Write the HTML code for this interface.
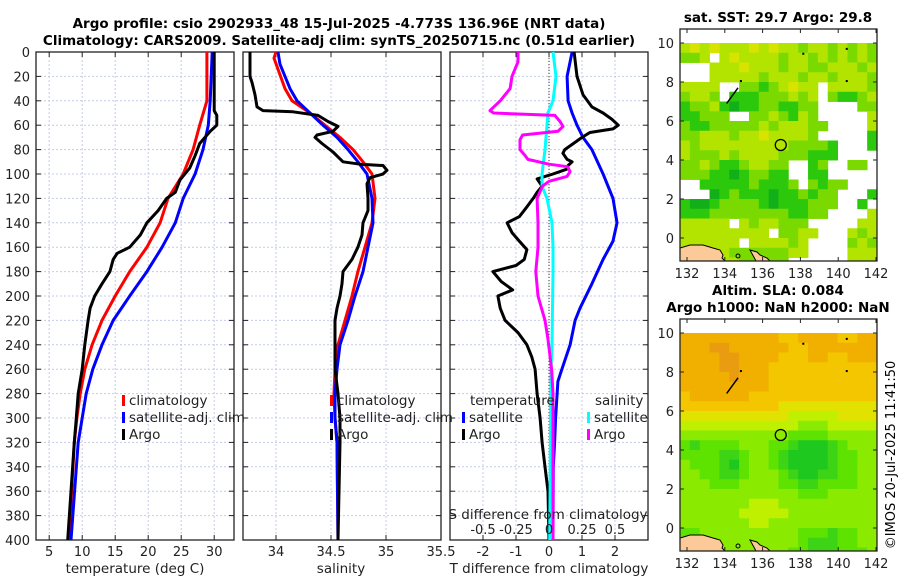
<!DOCTYPE html>
<html><head><meta charset="utf-8"><style>
html,body{margin:0;padding:0;background:#fff;}
svg{display:block;font-family:"DejaVu Sans","Liberation Sans",sans-serif;}
</style></head><body>
<svg id="fig" width="900" height="580" viewBox="0 0 900 580" xmlns="http://www.w3.org/2000/svg">
<text x="339" y="28" text-anchor="middle" font-size="13.5" font-weight="bold">Argo profile: csio 2902933_48 15-Jul-2025 -4.773S 136.96E (NRT data)</text>
<text x="339" y="45" text-anchor="middle" font-size="13.5" font-weight="bold">Climatology: CARS2009. Satellite-adj clim: synTS_20250715.nc (0.51d earlier)</text>
<text x="778" y="22" text-anchor="middle" font-size="13.5" font-weight="bold">sat. SST: 29.7 Argo: 29.8</text>
<text x="778" y="295" text-anchor="middle" font-size="13.5" font-weight="bold">Altim. SLA: 0.084</text>
<text x="778" y="312" text-anchor="middle" font-size="13.5" font-weight="bold">Argo h1000: NaN h2000: NaN</text>
<text transform="translate(895,455) rotate(-90)" text-anchor="middle" font-size="13">©IMOS 20-Jul-2025 11:41:50</text>
<g id="layer"></g>
</svg>
<script>
// ---- depth axis
const depthTicks = [0,20,40,60,80,100,120,140,160,180,200,220,240,260,280,300,320,340,360,380,400];
// ---- panel 1 temperature
const tempTicks = [5,10,15,20,25,30];
const climTDepth = [0,40,60,80,100,120,140,160,180,200,220,240,260,280,300,320,400];
const climT = [28.9,28.9,27.8,26.8,25.3,23.0,21.8,19.8,17.2,15.0,13.0,11.5,10.4,9.7,9.2,8.8,8.0];
const satT = [29.7,29.4,29.1,28.3,27.1,25.3,24.1,22.1,19.8,17.2,14.7,13.0,11.6,10.6,10.0,9.4,8.3];
const argoTDepth = [0,48,52,60,65,75,85,95,105,115,120,130,140,150,160,165,170,180,190,200,210,220,240,260,280,300,320,400];
const argoT = [30.0,30.0,30.4,30.4,29.4,27.8,27.1,26.3,24.8,24.1,22.8,21.5,19.8,18.8,17.2,15.3,14.7,14.2,13.0,11.9,11.2,10.9,10.4,10.0,9.4,9.1,8.8,7.8];
// ---- panel 2 salinity
const salTicks = [34,34.5,35,35.5];
const climSDepth = [0,5,30,40,50,60,70,80,90,100,120,140,160,180,200,220,240,260,280,300,320,400];
const climS = [34.0,33.982,34.082,34.145,34.309,34.445,34.582,34.7,34.791,34.873,34.9,34.873,34.809,34.745,34.691,34.627,34.564,34.536,34.527,34.536,34.555,34.564];
const satSDepth = [0,10,30,40,50,60,70,80,90,100,120,140,160,180,200,220,240,260,280,300,320,400];
const satS = [34.018,34.036,34.127,34.191,34.309,34.427,34.555,34.655,34.745,34.827,34.873,34.882,34.836,34.791,34.718,34.655,34.582,34.555,34.536,34.536,34.555,34.564];
const argoSDepth = [0,20,25,35,45,48,49,52,57,61,65,68,70,75,82,86,90,92,93,97,100,103,108,120,130,140,150,160,170,180,190,200,210,220,240,260,280,300,320,400];
const argoS = [33.764,33.764,33.782,33.809,33.827,33.882,34.155,34.382,34.473,34.564,34.518,34.373,34.355,34.418,34.518,34.564,34.609,34.764,34.973,35.009,34.973,34.855,34.827,34.836,34.836,34.791,34.782,34.745,34.691,34.609,34.6,34.582,34.555,34.536,34.536,34.536,34.564,34.582,34.582,34.564];
// ---- panel 3 differences
const tdiffTicks = [-2,-1,0,1,2];
const sdiffTicks = [-0.5,-0.25,0,0.25,0.5];
const sdiffLabels = ["-0.5","-0.25","0","0.25","0.5"];
const satTdDepth = [0,20,40,50,60,70,80,100,120,140,155,170,190,210,220,240,260,270,300,320,340,400];
const satTd = [0.7,0.55,0.58,0.7,0.85,1.03,1.3,1.64,1.94,2.06,1.94,1.64,1.3,0.94,0.79,0.64,0.39,0.27,0.2,0.17,0.13,0.12];
const argoTdDepth = [0,20,35,45,50,55,60,63,66,70,80,83,88,90,93,96,100,104,110,115,120,128,135,140,148,155,162,170,175,180,188,195,200,210,220,230,240,250,260,280,300,320,340,360,400];
const argoTd = [0.76,0.85,1.03,1.3,1.64,1.9,2.1,1.94,1.24,1.0,0.48,0.42,0.55,0.7,0.58,0.55,0.12,-0.36,-0.21,-0.36,-0.48,-0.7,-0.9,-1.27,-1.12,-0.9,-0.67,-0.75,-1.0,-1.7,-1.45,-1.1,-1.55,-1.48,-1.33,-0.94,-0.67,-0.52,-0.42,-0.36,-0.27,-0.21,-0.12,-0.03,0.0];
const satSdDepth = [0,20,40,50,60,80,100,110,120,140,160,180,240,260,400];
const satSd = [0.03,0.053,0.03,-0.008,-0.015,-0.03,-0.053,-0.053,-0.015,0.023,0.03,0.03,0.023,0.015,0.005];
const argoSdDepth = [0,8,20,30,40,48,50,52,57,61,65,68,72,80,85,88,92,94,98,102,106,110,120,140,160,180,200,220,235,260,280,400];
const argoSd = [-0.235,-0.235,-0.28,-0.295,-0.37,-0.447,-0.42,0.045,0.083,0.106,0.068,-0.2,-0.22,-0.22,-0.18,-0.16,0.0,0.14,0.16,0.136,0.0,-0.05,-0.09,-0.083,-0.083,-0.1,-0.083,-0.03,-0.008,0.02,0.03,0.03];
// ---- maps
const mapLonTicks = [132,134,136,138,140,142];
const mapLatTicks = [0,2,4,6,8,10];
const sstRows = [
"45454445454434434343","33404544443443434343","00044454443443344434","00044444344434434443",
"44440033234544044443","34430222333434032234","23342122332233000033","22333003343243000004",
"32233333434443300004","33444344544443000002","43444444444333320002","43334344443332220000",
"33432234433002300330","33322123322002200000","00222223222303233000","00012322212232330002",
"21123333212223330020","22233333333223300004","44444043443330000044","44444444403344000434",
"44444404444340000343","44444333333440000444","44444433333000000444"];
const slaRows = [
"88888888887788887788","88899888888778888888","88889988887778877888","88889988877777777777",
"88888988877777777777","88888888877777777777","78888887777777777777","77777777776666666666",
"66666666666555556666","55555555555544455555","44444444444333344444","32333344433211123444",
"33332234432111123344","43332134432111123344","44332234443211223344","44433344443322333344",
"44444444444433344444","44444445554444444444","44444455555444444444","44444445544444444444",
"33444444444433323344","33344444444432223344","33344444444332223334"];
const sstColors = ["none","#12b018","#2cc80c","#7ada00","#b2e400","#d8e400"];
const slaColors = ["none","#1ec81e","#3cd414","#5ee200","#8aea00","#bff000","#e2e200","#f4c600","#f1b000","#ea9c10"];
const argoLon = 136.96, argoLat = 4.77;

const NS="http://www.w3.org/2000/svg";
const layer=document.getElementById('layer');
function mk(tag,attrs,parent){const e=document.createElementNS(NS,tag);for(const k in attrs)e.setAttribute(k,attrs[k]);(parent||layer).appendChild(e);return e;}
function txt(s,attrs,parent){const e=mk('text',attrs,parent);e.textContent=s;return e;}

const Y0=52, Y1=540;
const yD = d => Y0 + (d/400)*(Y1-Y0);
const panels = [
 {x0:36,x1:234,lo:3,hi:33,name:'temperature-panel'},
 {x0:243,x1:441,lo:33.7,hi:35.5,name:'salinity-panel'},
 {x0:450,x1:648,lo:-3,hi:3,name:'difference-panel'}];
const sx = (p,v)=> p.x0 + (v-p.lo)/(p.hi-p.lo)*(p.x1-p.x0);
const sxS = v => sx(panels[2], v*4);

function drawPanel(p, xticks, labels, showY){
  const g=mk('g',{});
  
  
  depthTicks.forEach(d=>{
    const l=mk('line',{x1:p.x0,x2:p.x1,y1:yD(d),y2:yD(d),stroke:'#c4cbe8','stroke-width':1,'stroke-dasharray':'2,2'},g);
    
    
  });
  xticks.forEach((v,i)=>{
    const x=sx(p,v);
    const l=mk('line',{x1:x,x2:x,y1:Y0,y2:Y1,stroke:'#c4cbe8','stroke-width':1,'stroke-dasharray':'2,2'},g);
    
    
    mk('line',{x1:x,x2:x,y1:Y1,y2:Y1-5,stroke:'#222'},g);
    mk('line',{x1:x,x2:x,y1:Y0,y2:Y0+5,stroke:'#222'},g);
    const t=txt(labels[i],{x:x,y:556,'text-anchor':'middle','font-size':13,fill:'#222'},g);
    
    
  });
  depthTicks.forEach(d=>{
    mk('line',{x1:p.x0,x2:p.x0+5,y1:yD(d),y2:yD(d),stroke:'#222'},g);
    mk('line',{x1:p.x1,x2:p.x1-5,y1:yD(d),y2:yD(d),stroke:'#222'},g);
    if(showY){
      const t=txt(String(d),{x:30,y:yD(d)+5,'text-anchor':'end','font-size':13,fill:'#222'},g);
      
      
    }
  });
  const b=mk('rect',{x:p.x0,y:Y0,width:p.x1-p.x0,height:Y1-Y0,fill:'none',stroke:'#222','stroke-width':1.3},g);
  
  
  return g;
}
function line(depths, vals, xf, color, name){
  const pts=depths.map((d,i)=>xf(vals[i]).toFixed(1)+','+yD(d).toFixed(1)).join(' ');
  const e=mk('polyline',{points:pts,fill:'none',stroke:color,'stroke-width':3,'stroke-linejoin':'round'});
  
  
}
drawPanel(panels[0], tempTicks, tempTicks.map(String), true);
drawPanel(panels[1], salTicks, salTicks.map(String), false);
drawPanel(panels[2], tdiffTicks, tdiffTicks.map(String), false);

line(climTDepth, climT, v=>sx(panels[0],v), '#ff0000', 'climatology-temperature-line');
line(climTDepth, satT, v=>sx(panels[0],v), '#0000ff', 'satellite-temperature-line');
line(argoTDepth, argoT, v=>sx(panels[0],v), '#000000', 'argo-temperature-line');
line(climSDepth, climS, v=>sx(panels[1],v), '#ff0000', 'climatology-salinity-line');
line(satSDepth, satS, v=>sx(panels[1],v), '#0000ff', 'satellite-salinity-line');
line(argoSDepth, argoS, v=>sx(panels[1],v), '#000000', 'argo-salinity-line');
const zl=mk('line',{x1:sx(panels[2],0),x2:sx(panels[2],0),y1:Y0,y2:Y1,stroke:'#333','stroke-width':1,'stroke-dasharray':'1,2'});


line(satTdDepth, satTd, v=>sx(panels[2],v), '#0000ff', 'satellite-temperature-difference-line');
line(argoTdDepth, argoTd, v=>sx(panels[2],v), '#000000', 'argo-temperature-difference-line');
line(satSdDepth, satSd, sxS, '#00ffff', 'satellite-salinity-difference-line');
line(argoSdDepth, argoSd, sxS, '#ff00ff', 'argo-salinity-difference-line');

// axis titles
let t;
t=txt('temperature (deg C)',{x:135,y:573,'text-anchor':'middle','font-size':13.5,fill:'#222'});


t=txt('salinity',{x:341,y:573,'text-anchor':'middle','font-size':13.5,fill:'#222'});


t=txt('T difference from climatology',{x:549,y:573,'text-anchor':'middle','font-size':13.5,fill:'#222'});


t=txt('S difference from climatology',{x:548,y:519,'text-anchor':'middle','font-size':13.5,fill:'#222'});


sdiffTicks.forEach((v,i)=>{
  const e=txt(sdiffLabels[i],{x:sxS(v),y:534,'text-anchor':'middle','font-size':13,fill:'#222'});
  
  
});

// legends
function legend(x,y,color,label){
  const g=mk('g',{});
  
  
  mk('rect',{x:x,y:y-9,width:3,height:11,fill:color},g);
  txt(label,{x:x+7,y:y+1,'font-size':13.5,fill:'#222'},g);
}
legend(122,404,'#ff0000','climatology');legend(122,421,'#0000ff','satellite-adj. clim');legend(122,438,'#000000','Argo');
legend(330,404,'#ff0000','climatology');legend(330,421,'#0000ff','satellite-adj. clim');legend(330,438,'#000000','Argo');
txt('temperature',{x:470,y:405,'font-size':13.5,fill:'#222'});
txt('salinity',{x:595,y:405,'font-size':13.5,fill:'#222'});
legend(462,421,'#0000ff','satellite');legend(462,438,'#000000','Argo');
legend(587,421,'#00ffff','satellite');legend(587,438,'#ff00ff','Argo');

// maps
function drawMap(top, rows, colors, name){
  const bx0=680,bx1=877,by0=top,by1=top+232;
  const latY = lat => top+209 - lat*19.5;
  const lonX = lon => 687 + (lon-132)*18.9;
  const g=mk('g',{});
  
  
  const cid='clip'+top;
  const cp=mk('clipPath',{id:cid},g);
  mk('rect',{x:bx0,y:latY(10),width:bx1-bx0,height:by1-latY(10)},cp);
  const cg=mk('g',{'clip-path':'url(#'+cid+')'},g);
  const cw=(bx1-bx0)/20;
  rows.forEach((r,i)=>{
    for(let j=0;j<r.length;j++){
      const lv=+r[j]; if(!lv) continue;
      const c=mk('rect',{x:(bx0+j*cw).toFixed(2),y:(latY(10-0.5*i)).toFixed(2),width:(cw+0.4).toFixed(2),height:10.2,fill:colors[lv]},cg);
      
      
    }
  });
  // land
  const land1=[[680,by1-13],[690,by1-16],[703,by1-16],[713,by1-13],[720,by1-11],[723,by1-6],[722,by1-3],[725,by1],[680,by1]];
  const land2=[[750,by1-11],[757,by1-9],[760,by1-6],[767,by1-3],[770,by1],[756,by1]];
  [land1,land2].forEach(L=>{
    const p=mk('polygon',{points:L.map(q=>q.join(',')).join(' '),fill:'#fcca98',stroke:'#000','stroke-width':1},cg);
    
    
  });
  mk('circle',{cx:738,cy:by1-5,r:2,fill:'none',stroke:'#000'},cg);
  // islands
  mk('line',{x1:lonX(134.1),y1:latY(6.9),x2:lonX(134.7),y2:latY(7.7),stroke:'#000','stroke-width':1.5},g);
  [[138.1,9.5],[140.4,9.75],[140.4,8.1],[134.8,8.1]].forEach(q=>mk('rect',{x:lonX(q[0]),y:latY(q[1]),width:2,height:2,fill:'#000'},g));
  const c=mk('circle',{cx:lonX(argoLon),cy:latY(argoLat),r:5.5,fill:'none',stroke:'#000','stroke-width':1.3},g);
  
  
  mapLonTicks.forEach(v=>{
    const x=lonX(v);
    mk('line',{x1:x,x2:x,y1:by1,y2:by1-4,stroke:'#222'},g);
    mk('line',{x1:x,x2:x,y1:by0,y2:by0+4,stroke:'#222'},g);
    const e=txt(String(v),{x:x,y:by1+17,'text-anchor':'middle','font-size':13,fill:'#222'},g);
    
    
  });
  mapLatTicks.forEach(v=>{
    const y=latY(v);
    mk('line',{x1:bx0,x2:bx0+4,y1:y,y2:y,stroke:'#222'},g);
    mk('line',{x1:bx1,x2:bx1-4,y1:y,y2:y,stroke:'#222'},g);
    const e=txt(String(v),{x:674,y:y+5,'text-anchor':'end','font-size':13,fill:'#222'},g);
    
    
  });
  mk('rect',{x:bx0,y:by0,width:bx1-bx0,height:by1-by0,fill:'none',stroke:'#222','stroke-width':1.3},g);
}
drawMap(29, sstRows, sstColors, 'sst-map');
drawMap(319, slaRows, slaColors, 'sla-map');
</script>
</body></html>
